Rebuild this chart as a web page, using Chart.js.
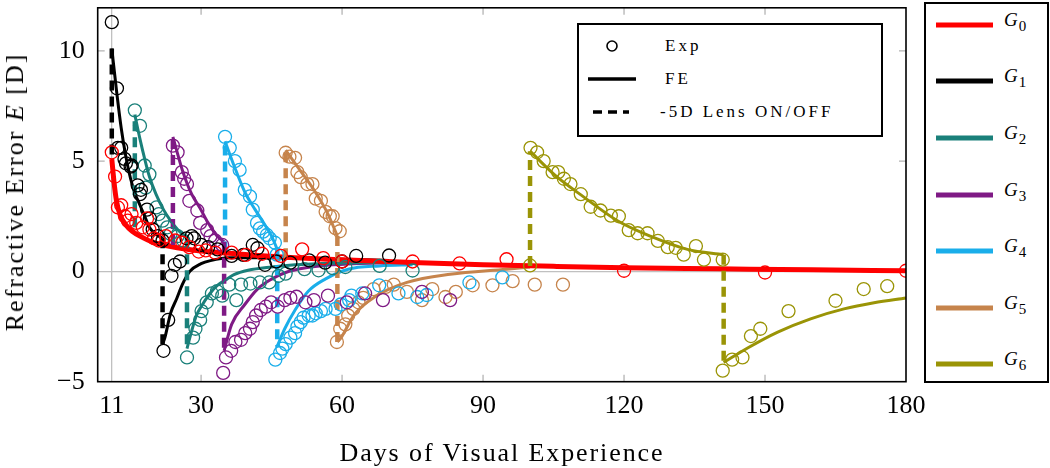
<!DOCTYPE html>
<html>
<head>
<meta charset="utf-8">
<script src="https://cdn.jsdelivr.net/npm/chart.js@4/dist/chart.umd.min.js"></script>
<style>
  html,body{margin:0;padding:0;background:#fff;}
  #wrap{position:relative;width:1050px;height:468px;overflow:hidden;font-family:"Liberation Serif","DejaVu Serif",serif;color:#000;}
  canvas{position:absolute;left:0;top:0;}
  .ytitle{position:absolute;left:15px;top:192px;transform:translate(-50%,-50%) rotate(-90deg);white-space:nowrap;font-size:26px;letter-spacing:2px;}
  .xtitle{position:absolute;left:502px;top:453px;transform:translate(-50%,-50%);white-space:nowrap;font-size:26px;letter-spacing:1.9px;}
  .inleg{position:absolute;left:577px;top:23px;width:302px;height:110px;border:2px solid #000;background:#fff;}
  .inleg .t{position:absolute;left:86px;font-size:17px;letter-spacing:3px;transform:translateY(-50%);white-space:nowrap;}
  .rleg{position:absolute;left:924px;top:2px;width:121px;height:377px;border:2px solid #000;background:#fff;}
  .rleg .ln{position:absolute;left:10px;width:57px;height:5px;transform:translateY(-50%);}
  .rleg .lb{position:absolute;left:78px;font-size:19px;transform:translateY(-60%);white-space:nowrap;}
  .rleg .lb sub{font-size:15px;font-style:normal;vertical-align:-5px;margin-left:1px;}
</style>
</head>
<body>
<div id="wrap">
  <canvas id="c" width="1050" height="468"></canvas>
  <div class="ytitle">Refractive Error <i>E</i> [D]</div>
  <div class="xtitle">Days of Visual Experience</div>
  <div class="inleg" id="inleg"></div>
  <div class="rleg" id="rleg"></div>
</div>
<script>
// ---------- axis ticks ----------
const xTickVals = [11, 30, 60, 90, 120, 150, 180];
const yTickVals = [-5, 0, 5, 10];
const xRange = [8, 180];
const yRange = [-5, 11.95];
const groupNames = ['0', '1', '2', '3', '4', '5', '6'];
const groupColors = ['#ff0000', '#000000', '#1a807a', '#7f1a85', '#1aaeea', '#c6844c', '#9a9406'];

// ---------- experimental data (circles) ----------
const g0ExpDay = [11,11.7,12.3,13,13.8,14.4,15.2,16.2,17.6,18.5,19,20,21,22.5,24.5,26,27.5,29.5,31,33,36.5,39.5,43,47,51.5,56,60,75,85,95,120,150,180];
const g0ExpE   = [5.4,4.3,2.9,3.0,2.5,2.3,2.6,2.2,2.0,2.4,1.9,1.5,1.4,1.6,1.4,1.3,1.1,0.9,0.95,0.85,0.85,0.75,0.8,0.7,1.0,0.6,0.45,0.45,0.36,0.55,0.03,-0.05,0.03];

const g1ExpDay = [11,12.1,12.3,13,13.7,14,15,15.2,16.5,17,17.2,18.5,19.1,19.7,20.8,21.8, 22,23,23.7,24.4,25.5,26.9,28,28.5,30,31.5,33.5,36.5,39,41,42,43.6,46,49,53,56.4,60,63,70];
const g1ExpE   = [11.3,8.3,5.6,5.6,5.1,4.9,4.75,4.8,3.9,3.5,3.7,2.8,2.4,1.9,1.6,1.4, -3.6,-2.2,-0.2,0.3,0.45,1.5,1.6,1.5,1.2,1.1,1.0,0.7,0.75,1.2,1.05,0.3,0.45,0.4,0.5,0.4,0.45,0.7,0.72];

const g2ExpDay = [15.9,17,18,18.2,19,20.5,21,21.8,22.8,23.5,25,26.2, 27,28.3,28.8,29.8,30.1,31.2,32.3,33.4,34.5,36,37.5,38.5,40.5,42.5,44.5,46.5,48,52,55,58,60.7,68,75];
const g2ExpE   = [7.3,6.6,4.8,3.8,4.4,2.9,2.6,2.3,2.0,1.7,1.6,1.4, -3.9,-3.0,-2.6,-2.2,-1.8,-1.4,-1.0,-0.9,-1.1,-0.6,-1.3,-0.6,-0.55,-0.5,-0.5,-0.2,-0.1,0.1,0.05,0.15,0.2,0.25,0.04];

const g3ExpDay = [24,25,25.9,26.4,27,27.5,29.2,29.8,31.3,32,33,34.5, 34.7,35.3,36.4,37.3,38.5,39.4,40.4,41,41.7,42.7,43.8,44.9,46.3,47.8,49,50.3,52.2,54,57,61,64.9,68.7,77,83];
const g3ExpE   = [5.7,5.4,4.5,4.2,3.96,3.2,2.76,2.2,1.87,1.6,1.4,1.2, -4.6,-3.9,-3.6,-3.2,-3.1,-2.8,-2.6,-2.3,-2.0,-1.75,-1.6,-1.4,-1.6,-1.3,-1.2,-1.15,-1.4,-1.3,-1.1,-1.4,-1.0,-1.3,-0.93,-1.3];

const g4ExpDay = [35.1,36.1,37.2,38.2,39.3,40.4,41,41.9,42.5,43.2,44,44.6,45.7,46.1, 45.8,46.8,47.3,48,49,50,50.5,51.2,51.8,52.9,53.7,54.4,55.5,56.5,58.6,59.7,61.5,62,64.3,67.9,72,76,78,87.1,94.1];
const g4ExpE   = [6.1,5.6,5.0,4.6,3.7,3.4,2.8,2.2,1.95,1.8,1.65,1.5,1.3,0.76, -4.0,-3.7,-3.5,-3.3,-3.0,-2.8,-2.5,-2.3,-2.1,-2.0,-2.0,-1.9,-1.8,-1.7,-1.7,-1.5,-1.3,-1.1,-1.0,-0.63,-1.0,-1.16,-1.07,-0.5,-0.27];

const g5ExpDay = [48,48.8,50,50.5,51.2,52.6,53.7,54.4,55.5,56.5,57.4,58,58.6,59.5, 58.9,59.6,60.7,61.3,62.4,63.5,64.5,66.7,69.3,71,73.8,77,79.2,82,84.2,87.8,92,96.3,101,107];
const g5ExpE   = [5.38,5.2,5.15,4.5,4.27,3.96,3.96,3.3,3.2,2.7,2.5,2.5,1.96,1.82, -3.2,-2.6,-2.4,-2.0,-1.7,-1.4,-1.2,-0.8,-0.7,-0.6,-0.93,-1.3,-0.8,-1.16,-0.93,-0.63,-0.63,-0.44,-0.6,-0.6];

const g6ExpDay = [100,100.1,101.5,102.9,104.8,106,107.2,108.6,110.8,112.9,115,117.2,118.9,121,122.9,125,127.2,129.3,131,132.7,135.3,137,141, 141,143,145.2,147,149,155,165,171,176];
const g6ExpE   = [0.27,5.6,5.4,5.0,4.5,4.5,4.2,3.96,3.5,2.93,2.76,2.53,2.5,1.87,1.73,1.73,1.38,1.1,1.07,0.76,1.15,0.53,0.53, -4.5,-4.0,-3.9,-2.93,-2.6,-1.8,-1.33,-0.8,-0.67];

// ---------- FE model curves ----------
const g0FeDay = [11,11.5,12,12.7,14,15.5,17,20,23,27,30,34,40,50,60,75,90,105,120,140,160,180];
const g0FeE   = [5.1,4.0,3.2,2.6,2.1,1.8,1.6,1.3,1.15,1.0,0.92,0.86,0.75,0.62,0.53,0.4,0.3,0.23,0.17,0.12,0.07,0.03];

const g1FeDayA = [11,12,13,14,15,16,17,18,19,20,21.8];
const g1FeEA   = [10.1,8.2,6.5,5.2,4.2,3.5,3.0,2.5,2.0,1.75,1.5];
const g1FeDayB = [21.8,22.3,23.5,24.8,26,27.6,30,32,36,45,55,70];
const g1FeEB   = [-3.3,-3.0,-1.9,-1.24,-0.6,0.0,0.35,0.49,0.62,0.62,0.57,0.5];

const g2FeDayA = [15.9,17,18,19,20.4,22,23.5,25,27];
const g2FeEA   = [7.1,6.0,5.1,4.3,3.5,2.8,2.3,1.9,1.5];
const g2FeDayB = [27,28,29,30,31.9,33.4,35.5,37,40,45,50,60,70];
const g2FeEB   = [-3.5,-2.7,-2.0,-1.6,-1.0,-0.65,-0.35,-0.15,0.05,0.2,0.3,0.38,0.42];

const g3FeDayA = [24,26,28,29.7,31.5,33.4,34.9];
const g3FeEA   = [6.1,4.6,3.5,2.9,2.2,1.6,1.35];
const g3FeDayB = [34.9,36.5,39.3,42,45,48,52,58,70];
const g3FeEB   = [-3.6,-2.4,-1.5,-0.8,-0.35,-0.05,0.15,0.3,0.4];

const g4FeDayA = [35.1,37,39.3,41.5,43.6,45,46.2];
const g4FeEA   = [5.9,4.8,3.6,2.8,2.1,1.6,1.0];
const g4FeDayB = [46.2,47.8,50,52.8,56.4,61.3,68,75];
const g4FeEB   = [-3.4,-2.6,-1.75,-0.9,-0.35,0.1,0.25,0.3];

const g5FeDayA = [48,51,54,57,59];
const g5FeEA   = [5.5,4.6,3.7,2.6,1.6];
const g5FeDayB = [59,59.8,62.6,67,73.8,83,95,100];
const g5FeEB   = [-3.2,-3.0,-1.96,-1.15,-0.5,-0.13,0.1,0.2];

const g6FeDayA = [100,105.8,111.4,118.6,125.6,133.5,141.2];
const g6FeEA   = [5.45,4.27,3.38,2.3,1.6,1.0,0.76];
const g6FeDayB = [141.2,146.3,152.7,159.7,166.8,173.2,180];
const g6FeEB   = [-4.13,-3.47,-2.75,-2.15,-1.7,-1.42,-1.2];

// ---------- -5D lens ON/OFF jumps ----------
const lensDay   = [11, 21.8, 15.9, 27, 24, 34.9, 35.1, 46.2, 48, 59, 100, 141.2];
const lensFrom  = [5.3, 1.5, 2.0, 1.5, 1.2, 1.35, 0.9, 1.0, 0.6, 1.6, 0.25, 0.76];
const lensTo    = [10.1, -3.3, 7.1, -3.5, 6.1, -3.6, 5.9, -3.4, 5.5, -3.2, 5.45, -4.13];
const lensGroup = [1, 1, 2, 2, 3, 3, 4, 4, 5, 5, 6, 6];

// ---------- build datasets ----------
const pts = (xs, ys) => xs.map((x, i) => ({x: x, y: ys[i]}));
const expSets = [
  [g0ExpDay, g0ExpE], [g1ExpDay, g1ExpE], [g2ExpDay, g2ExpE], [g3ExpDay, g3ExpE],
  [g4ExpDay, g4ExpE], [g5ExpDay, g5ExpE], [g6ExpDay, g6ExpE]
];
const feSets = [
  [0, g0FeDay, g0FeE],
  [1, g1FeDayA, g1FeEA], [1, g1FeDayB, g1FeEB],
  [2, g2FeDayA, g2FeEA], [2, g2FeDayB, g2FeEB],
  [3, g3FeDayA, g3FeEA], [3, g3FeDayB, g3FeEB],
  [4, g4FeDayA, g4FeEA], [4, g4FeDayB, g4FeEB],
  [5, g5FeDayA, g5FeEA], [5, g5FeDayB, g5FeEB],
  [6, g6FeDayA, g6FeEA], [6, g6FeDayB, g6FeEB]
];

const datasets = [];
expSets.forEach((s, g) => {
  datasets.push({
    label: 'Exp G' + g, data: pts(s[0], s[1]), showLine: false,
    pointRadius: 6.5, pointBorderWidth: 1.3, pointBackgroundColor: 'rgba(0,0,0,0)',
    pointBorderColor: groupColors[g], borderColor: groupColors[g], order: 0
  });
});
lensDay.forEach((d, i) => {
  datasets.push({
    label: 'Lens', data: [{x: d, y: lensFrom[i]}, {x: d, y: lensTo[i]}], showLine: true,
    borderColor: groupColors[lensGroup[i]], borderWidth: 4.5, borderDash: [10, 6],
    pointRadius: 0, order: 1
  });
});
feSets.forEach(s => {
  const g = s[0];
  datasets.push({
    label: 'FE G' + g, data: pts(s[1], s[2]), showLine: true,
    borderColor: groupColors[g], borderWidth: g === 0 ? 5 : 3,
    pointRadius: 0, cubicInterpolationMode: 'monotone', order: g === 0 ? 2 : 3
  });
});

const frameTicks = {
  id: 'frameTicks',
  afterDraw(chart) {
    const {ctx, chartArea: a, scales: {x, y}} = chart;
    ctx.save();
    ctx.strokeStyle = '#b4b4b4';
    ctx.lineWidth = 1.3;
    xTickVals.forEach(v => {
      if (v === 11 || v === 180) return;
      const px = x.getPixelForValue(v);
      ctx.beginPath();
      ctx.moveTo(px, a.bottom); ctx.lineTo(px, a.bottom - 7);
      ctx.moveTo(px, a.top); ctx.lineTo(px, a.top + 7);
      ctx.stroke();
    });
    yTickVals.forEach(v => {
      if (v === 0 || v === -5) return;
      const py = y.getPixelForValue(v);
      ctx.beginPath();
      ctx.moveTo(a.left, py); ctx.lineTo(a.left + 7, py);
      ctx.moveTo(a.right, py); ctx.lineTo(a.right - 7, py);
      ctx.stroke();
    });
    ctx.strokeStyle = '#000';
    ctx.lineWidth = 1.6;
    ctx.strokeRect(a.left, a.top, a.right - a.left, a.bottom - a.top);
    ctx.restore();
  }
};

new Chart(document.getElementById('c'), {
  type: 'scatter',
  data: {datasets: datasets},
  options: {
    responsive: false, animation: false, devicePixelRatio: 1,
    layout: {padding: {left: 0, right: 144, top: 2, bottom: 0}},
    plugins: {legend: {display: false}, tooltip: {enabled: false}},
    scales: {
      x: {
        type: 'linear', min: xRange[0], max: xRange[1], bounds: 'data',
        afterBuildTicks: s => { s.ticks = xTickVals.map(v => ({value: v})); },
        afterFit: s => { s.height = 86.3; s.paddingLeft = 0; s.paddingRight = 0; s.paddingTop = 0; s.paddingBottom = 0; },
        grid: {color: c => (c.tick && c.tick.value === 11) ? '#c0c0c0' : 'rgba(0,0,0,0)', lineWidth: 1.3, drawTicks: false},
        border: {display: false},
        ticks: {padding: 9, color: '#000', font: {family: 'Liberation Serif', size: 26}, maxRotation: 0, autoSkip: false}
      },
      y: {
        type: 'linear', min: yRange[0], max: yRange[1], bounds: 'data',
        afterBuildTicks: s => { s.ticks = yTickVals.map(v => ({value: v})); },
        afterFit: s => { s.width = 97.7; s.paddingLeft = 0; s.paddingRight = 0; s.paddingTop = 0; s.paddingBottom = 0; },
        grid: {color: c => (c.tick && c.tick.value === 0) ? '#c0c0c0' : 'rgba(0,0,0,0)', lineWidth: 1.3, drawTicks: false},
        border: {display: false},
        ticks: {padding: 13, color: '#000', font: {family: 'Liberation Serif', size: 26}, autoSkip: false,
          callback: v => v < 0 ? '\u2212' + Math.abs(v) : String(v)}
      }
    }
  },
  plugins: [frameTicks]
});

// ---------- legends (HTML text) ----------
const inleg = document.getElementById('inleg');
inleg.innerHTML =
  '<svg width="80" height="110" style="position:absolute;left:0;top:0">' +
  '<circle cx="33" cy="21" r="5" fill="none" stroke="#000" stroke-width="1.6"/>' +
  '<line x1="9" y1="54" x2="57" y2="54" stroke="#000" stroke-width="3.5"/>' +
  '<line x1="14" y1="87" x2="50" y2="87" stroke="#000" stroke-width="3.5" stroke-dasharray="9,6"/>' +
  '</svg>' +
  '<div class="t" style="top:21px">Exp</div>' +
  '<div class="t" style="top:54px">FE</div>' +
  '<div class="t" style="top:87px;left:81px">-5D Lens ON/OFF</div>';

const rleg = document.getElementById('rleg');
let html = '';
groupNames.forEach((n, g) => {
  const cy = 20.7 + g * 56.6;
  html += '<div class="ln" style="top:' + cy + 'px;background:' + groupColors[g] + '"></div>' +
          '<div class="lb" style="top:' + cy + 'px"><i>G</i><sub>' + n + '</sub></div>';
});
rleg.innerHTML = html;
</script>
</body>
</html>
